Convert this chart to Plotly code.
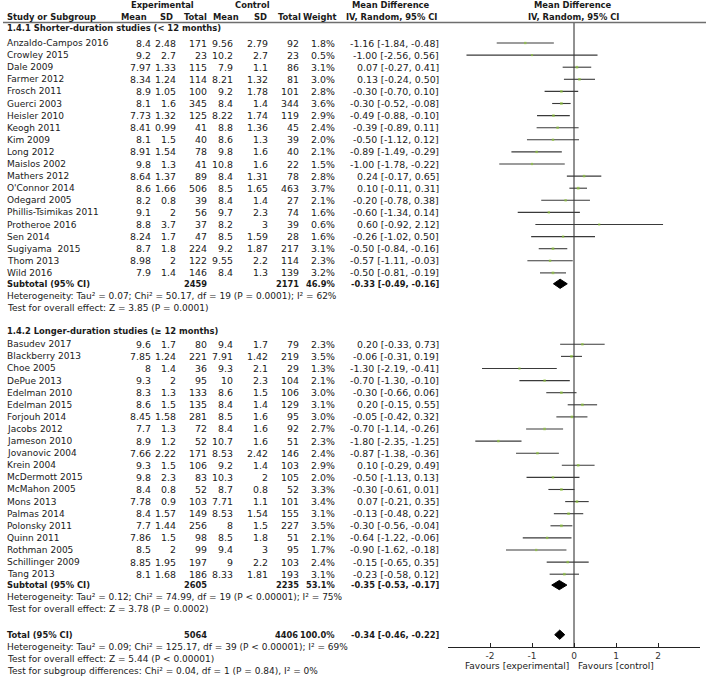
import plotly.graph_objects as go

# ---------------- data ----------------
g1_names = ["Anzaldo-Campos 2016", "Crowley 2015", "Dale 2009", "Farmer 2012", "Frosch 2011",
            "Guerci 2003", "Heisler 2010", "Keogh 2011", "Kim 2009", "Long 2012", "Maislos 2002",
            "Mathers 2012", "O'Connor 2014", "Odegard 2005", "Phillis-Tsimikas 2011",
            "Protheroe 2016", "Sen 2014", "Sugiyama  2015", "Thom 2013", "Wild 2016"]
g1_exp_mean = [8.4, 9.2, 7.97, 8.34, 8.9, 8.1, 7.73, 8.41, 8.1, 8.91, 9.8, 8.64, 8.6, 8.2, 9.1, 8.8, 8.24, 8.7, 8.98, 7.9]
g1_exp_sd = [2.48, 2.7, 1.33, 1.24, 1.05, 1.6, 1.32, 0.99, 1.5, 1.54, 1.3, 1.37, 1.66, 0.8, 2, 3.7, 1.7, 1.8, 2, 1.4]
g1_exp_n = [171, 23, 115, 114, 100, 345, 125, 41, 40, 78, 41, 89, 506, 39, 56, 37, 47, 224, 122, 146]
g1_ctl_mean = [9.56, 10.2, 7.9, 8.21, 9.2, 8.4, 8.22, 8.8, 8.6, 9.8, 10.8, 8.4, 8.5, 8.4, 9.7, 8.2, 8.5, 9.2, 9.55, 8.4]
g1_ctl_sd = [2.79, 2.7, 1.1, 1.32, 1.78, 1.4, 1.74, 1.36, 1.3, 1.6, 1.6, 1.31, 1.65, 1.4, 2.3, 3, 1.59, 1.87, 2.2, 1.3]
g1_ctl_n = [92, 23, 86, 81, 101, 344, 119, 45, 39, 40, 22, 78, 463, 27, 74, 39, 28, 217, 114, 139]
g1_weight = [1.8, 0.5, 3.1, 3.0, 2.8, 3.6, 2.9, 2.4, 2.0, 2.1, 1.5, 2.8, 3.7, 2.1, 1.6, 0.6, 1.6, 3.1, 2.3, 3.2]
g1_md = [-1.16, -1.00, 0.07, 0.13, -0.30, -0.30, -0.49, -0.39, -0.50, -0.89, -1.00, 0.24, 0.10, -0.20, -0.60, 0.60, -0.26, -0.50, -0.57, -0.50]
g1_lo = [-1.84, -2.56, -0.27, -0.24, -0.70, -0.52, -0.88, -0.89, -1.12, -1.49, -1.78, -0.17, -0.11, -0.78, -1.34, -0.92, -1.02, -0.84, -1.11, -0.81]
g1_hi = [-0.48, 0.56, 0.41, 0.50, 0.10, -0.08, -0.10, 0.11, 0.12, -0.29, -0.22, 0.65, 0.31, 0.38, 0.14, 2.12, 0.50, -0.16, -0.03, -0.19]

g2_names = ["Basudev 2017", "Blackberry 2013", "Choe 2005", "DePue 2013", "Edelman 2010",
            "Edelman 2015", "Forjouh 2014", "Jacobs 2012", "Jameson 2010", "Jovanovic 2004",
            "Krein 2004", "McDermott 2015", "McMahon 2005", "Mons 2013", "Palmas 2014",
            "Polonsky 2011", "Quinn 2011", "Rothman 2005", "Schillinger 2009", "Tang 2013"]
g2_exp_mean = [9.6, 7.85, 8, 9.3, 8.3, 8.6, 8.45, 7.7, 8.9, 7.66, 9.3, 9.8, 8.4, 7.78, 8.4, 7.7, 7.86, 8.5, 8.85, 8.1]
g2_exp_sd = [1.7, 1.24, 1.4, 2, 1.3, 1.5, 1.58, 1.3, 1.2, 2.22, 1.5, 2.3, 0.8, 0.9, 1.57, 1.44, 1.5, 2, 1.95, 1.68]
g2_exp_n = [80, 221, 36, 95, 133, 135, 281, 72, 52, 171, 106, 83, 52, 103, 149, 256, 98, 99, 197, 186]
g2_ctl_mean = [9.4, 7.91, 9.3, 10, 8.6, 8.4, 8.5, 8.4, 10.7, 8.53, 9.2, 10.3, 8.7, 7.71, 8.53, 8, 8.5, 9.4, 9, 8.33]
g2_ctl_sd = [1.7, 1.42, 2.1, 2.3, 1.5, 1.4, 1.6, 1.6, 1.6, 2.42, 1.4, 2, 0.8, 1.1, 1.54, 1.5, 1.8, 3, 2.2, 1.81]
g2_ctl_n = [79, 219, 29, 104, 106, 129, 95, 92, 51, 146, 103, 105, 52, 101, 155, 227, 51, 95, 103, 193]
g2_weight = [2.3, 3.5, 1.3, 2.1, 3.0, 3.1, 3.0, 2.7, 2.3, 2.4, 2.9, 2.0, 3.3, 3.4, 3.1, 3.5, 2.1, 1.7, 2.4, 3.1]
g2_md = [0.20, -0.06, -1.30, -0.70, -0.30, 0.20, -0.05, -0.70, -1.80, -0.87, 0.10, -0.50, -0.30, 0.07, -0.13, -0.30, -0.64, -0.90, -0.15, -0.23]
g2_lo = [-0.33, -0.31, -2.19, -1.30, -0.66, -0.15, -0.42, -1.14, -2.35, -1.38, -0.29, -1.13, -0.61, -0.21, -0.48, -0.56, -1.22, -1.62, -0.65, -0.58]
g2_hi = [0.73, 0.19, -0.41, -0.10, 0.06, 0.55, 0.32, -0.26, -1.25, -0.36, 0.49, 0.13, 0.01, 0.35, 0.22, -0.04, -0.06, -0.18, 0.35, 0.12]

# pooled rows: [exp total, ctrl total, weight, md, lo, hi]
sub1 = [2459, 2171, 46.9, -0.33, -0.49, -0.16]
sub2 = [2605, 2235, 53.1, -0.35, -0.53, -0.17]
total = [5064, 4406, 100.0, -0.34, -0.46, -0.22]

group_titles = ["1.4.1 Shorter-duration studies (< 12 months)",
                "1.4.2 Longer-duration studies (≥ 12 months)"]
het1 = "Heterogeneity: Tau² = 0.07; Chi² = 50.17, df = 19 (P = 0.0001); I² = 62%"
eff1 = "Test for overall effect: Z = 3.85 (P = 0.0001)"
het2 = "Heterogeneity: Tau² = 0.12; Chi² = 74.99, df = 19 (P < 0.00001); I² = 75%"
eff2 = "Test for overall effect: Z = 3.78 (P = 0.0002)"
het_t = "Heterogeneity: Tau² = 0.09; Chi² = 125.17, df = 39 (P < 0.00001); I² = 69%"
eff_t = "Test for overall effect: Z = 5.44 (P < 0.00001)"
sub_test = "Test for subgroup differences: Chi² = 0.04, df = 1 (P = 0.84), I² = 0%"

tick_vals = [-2, -1, 0, 1, 2]
tick_text = ["-2", "-1", "0", "1", "2"]
favours = ["Favours [experimental]", "Favours [control]"]

# ---------------- layout helpers ----------------
W, H = 708, 678
FONT = "DejaVu Sans"
FS = 9.0      # regular text
FN = 9.4      # regular numbers
FB = 8.4      # bold labels
FBN = 8.3     # bold numbers
TXT = "#1a1a1a"
Y0, DY = 43.0, 12.1


def ry(i):
    return Y0 + DY * i


def px(x):
    return x / W


anns = []


def txt(x, y, s, anchor="left", bold=False, size=None):
    if size is None:
        size = FB if bold else FS
    if bold:
        s = "<b>" + s + "</b>"
    anns.append(dict(x=px(x), y=y, xref="paper", yref="y", text=s, showarrow=False,
                     xanchor=anchor, yanchor="middle", borderpad=0,
                     font=dict(family=FONT, size=size, color=TXT)))


def g(v):
    return f"{v:g}"


def ci(m, l, h):
    return f"{m:.2f} [{l:.2f}, {h:.2f}]"


# column right edges
C_EM, C_ES, C_EN, C_CM, C_CS, C_CN, C_W, C_MD = 152, 177, 208, 234, 269, 300, 336, 440
XL = 6

# headers
txt(162, 5, "Experimental", "center", True)
txt(252, 5, "Control", "center", True)
txt(391, 5, "Mean Difference", "center", True)
txt(573, 5, "Mean Difference", "center", True)
txt(XL, 16.5, "Study or Subgroup", "left", True)
for xx, s in [(148, "Mean"), (174, "SD"), (208, "Total"), (240, "Mean"), (268, "SD"),
              (302, "Total"), (337, "Weight")]:
    txt(xx, 16.5, s, "right", True)
txt(391, 16.5, "IV, Random, 95% CI", "center", True)
txt(573, 16.5, "IV, Random, 95% CI", "center", True)

ci_x, ci_y, sq_x, sq_y, sq_s = [], [], [], [], []
diamonds = []

groups = [
    (g1_names, g1_exp_mean, g1_exp_sd, g1_exp_n, g1_ctl_mean, g1_ctl_sd, g1_ctl_n,
     g1_weight, g1_md, g1_lo, g1_hi, sub1, het1, eff1, -1.25, 0),
    (g2_names, g2_exp_mean, g2_exp_sd, g2_exp_n, g2_ctl_mean, g2_ctl_sd, g2_ctl_n,
     g2_weight, g2_md, g2_lo, g2_hi, sub2, het2, eff2, 23.8, 24.9),
]

for gi, (nm, em, es, en, cm, cs, cn, wt, md, lo, hi, sub, het, eff, hrow, start) in enumerate(groups):
    txt(XL, ry(hrow), group_titles[gi], "left", True)
    for k in range(len(nm)):
        y = ry(start + k)
        txt(XL, y, nm[k])
        txt(C_EM, y, g(em[k]), "right", size=FN)
        txt(C_ES, y, g(es[k]), "right", size=FN)
        txt(C_EN, y, str(en[k]), "right", size=FN)
        txt(C_CM, y, g(cm[k]), "right", size=FN)
        txt(C_CS, y, g(cs[k]), "right", size=FN)
        txt(C_CN, y, str(cn[k]), "right", size=FN)
        txt(C_W, y, f"{wt[k]:.1f}%", "right", size=FN)
        txt(C_MD, y, ci(md[k], lo[k], hi[k]), "right", size=FN)
        ci_x += [lo[k], hi[k], None]
        ci_y += [y, y, None]
        sq_x.append(md[k])
        sq_y.append(y)
        sq_s.append(2.0 + 0.2 * wt[k])
    ys = ry(start + len(nm) - 0.1)
    txt(XL, ys, "Subtotal (95% CI)", "left", True)
    txt(C_EN, ys, str(sub[0]), "right", True, FBN)
    txt(C_CN, ys, str(sub[1]), "right", True, FBN)
    txt(C_W, ys, f"{sub[2]:.1f}%", "right", True, FBN)
    txt(C_MD, ys, ci(sub[3], sub[4], sub[5]), "right", True, FBN)
    diamonds.append((sub[3], sub[4], sub[5], ys))
    txt(XL, ys + DY, het)
    txt(XL, ys + 2 * DY, eff)

yt = ry(48.9)
txt(XL, yt, "Total (95% CI)", "left", True)
txt(C_EN, yt, str(total[0]), "right", True, FBN)
txt(C_CN - 1, yt, str(total[1]), "right", True, FBN)
txt(C_W, yt, f"{total[2]:.1f}%", "right", True, FBN)
txt(C_MD, yt, ci(total[3], total[4], total[5]), "right", True, FBN)
diamonds.append((total[3], total[4], total[5], yt))
txt(XL, yt + DY, het_t)
txt(XL, yt + 2 * DY, eff_t)
txt(XL, yt + 3 * DY, sub_test)

AX_Y = 647
txt(570, 665.5, favours[0], "right")
txt(577, 665.5, favours[1], "left")

fig = go.Figure()
fig.add_trace(go.Scatter(x=ci_x, y=ci_y, mode="lines", line=dict(color="#3a3a3a", width=1.1),
                         hoverinfo="skip", showlegend=False, cliponaxis=False))
fig.add_trace(go.Scatter(x=sq_x, y=sq_y, mode="markers",
                         marker=dict(symbol="square", size=sq_s, color="#8fc43c", line=dict(width=0)),
                         showlegend=False, cliponaxis=False))
for m, l, h, yc in diamonds:
    hh = 4.6
    fig.add_trace(go.Scatter(x=[l, m, h, m, l], y=[yc, yc - hh, yc, yc + hh, yc], mode="lines",
                             fill="toself", fillcolor="black", line=dict(color="black", width=1),
                             showlegend=False, hoverinfo="skip", cliponaxis=False))

shapes = [
    dict(type="line", xref="paper", yref="y", x0=px(3), x1=px(706), y0=22.5, y1=22.5,
         line=dict(color="#6e6e6e", width=1.4)),
    dict(type="line", xref="x", yref="y", x0=0, x1=0, y0=22.5, y1=AX_Y, layer="below",
         line=dict(color="#222", width=1)),
]

fig.update_layout(
    width=W, height=H, margin=dict(l=0, r=0, t=0, b=0),
    paper_bgcolor="white", plot_bgcolor="white",
    annotations=anns, shapes=shapes,
    xaxis=dict(domain=[px(448), px(700)], range=[-3, 3], anchor="free", position=1 - AX_Y / H,
               showgrid=False, zeroline=False, showline=True, linecolor="#222", linewidth=1,
               ticks="inside", ticklen=4, tickcolor="#222", tickvals=tick_vals, ticktext=tick_text,
               tickfont=dict(family=FONT, size=FS, color="#333")),
    yaxis=dict(domain=[0, 1], range=[H, 0], visible=False, showgrid=False, zeroline=False),
    showlegend=False,
)

fig.write_html("out.html", config={"displayModeBar": False},
               post_script="document.body.style.margin='0px';document.body.style.overflow='hidden';")
